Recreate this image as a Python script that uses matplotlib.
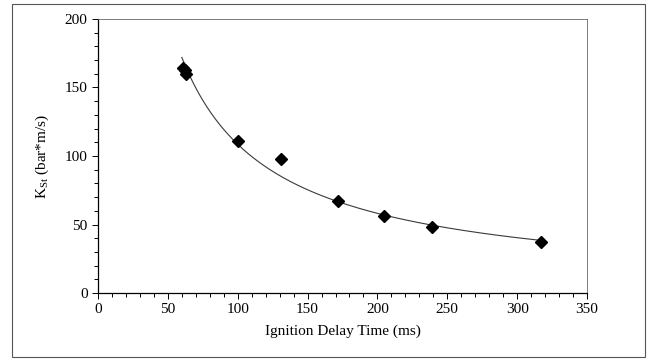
import numpy as np
import matplotlib.pyplot as plt
from matplotlib.patches import Rectangle
from matplotlib.ticker import MultipleLocator

plt.rcParams['font.family'] = ['Liberation Serif', 'DejaVu Serif']
plt.rcParams['mathtext.fontset'] = 'custom'
plt.rcParams['mathtext.rm'] = 'Liberation Serif'

# measured points
delay = [61, 62, 63, 100, 131, 172, 205, 239, 317]
kst = [164, 163, 160, 111, 98, 67, 56, 48, 37]

# power-law trendline through the points
b, loga = np.polyfit(np.log(delay), np.log(kst), 1)
xfit = np.linspace(60, 317, 200)
yfit = np.exp(loga) * xfit ** b

fig = plt.figure(figsize=(6.47, 3.61), dpi=100)
fig.patches.append(Rectangle((12 / 647, 4 / 361), 633 / 647, 353 / 361,
                             transform=fig.transFigure, fill=False,
                             edgecolor='#555555', linewidth=0.8))
ax = fig.add_axes([98 / 647, 68 / 361, 489 / 647, 274 / 361])

ax.plot(xfit, yfit, color='#3a3a3a', linewidth=0.8)
ax.plot(delay, kst, linestyle='none', marker='D', markersize=6.5,
        color='black')

ax.set_xlim(0, 350)
ax.set_ylim(0, 200)
ax.xaxis.set_major_locator(MultipleLocator(50))
ax.xaxis.set_minor_locator(MultipleLocator(10))
ax.yaxis.set_major_locator(MultipleLocator(50))
ax.yaxis.set_minor_locator(MultipleLocator(10))
ax.tick_params(which='both', direction='out', labelsize=11, width=0.7)
ax.tick_params(which='major', length=4)
ax.tick_params(which='minor', length=3)

for s in ['left', 'bottom']:
    ax.spines[s].set_linewidth(0.9)
for s in ['top', 'right']:
    ax.spines[s].set_linewidth(0.6)
    ax.spines[s].set_color('#666666')

ax.set_xlabel('Ignition Delay Time (ms)', fontsize=11, labelpad=6)
ax.set_ylabel(r'K$_{\mathrm{St}}$ (bar*m/s)', fontsize=11, labelpad=10)

fig.savefig('out.png', dpi=100)
